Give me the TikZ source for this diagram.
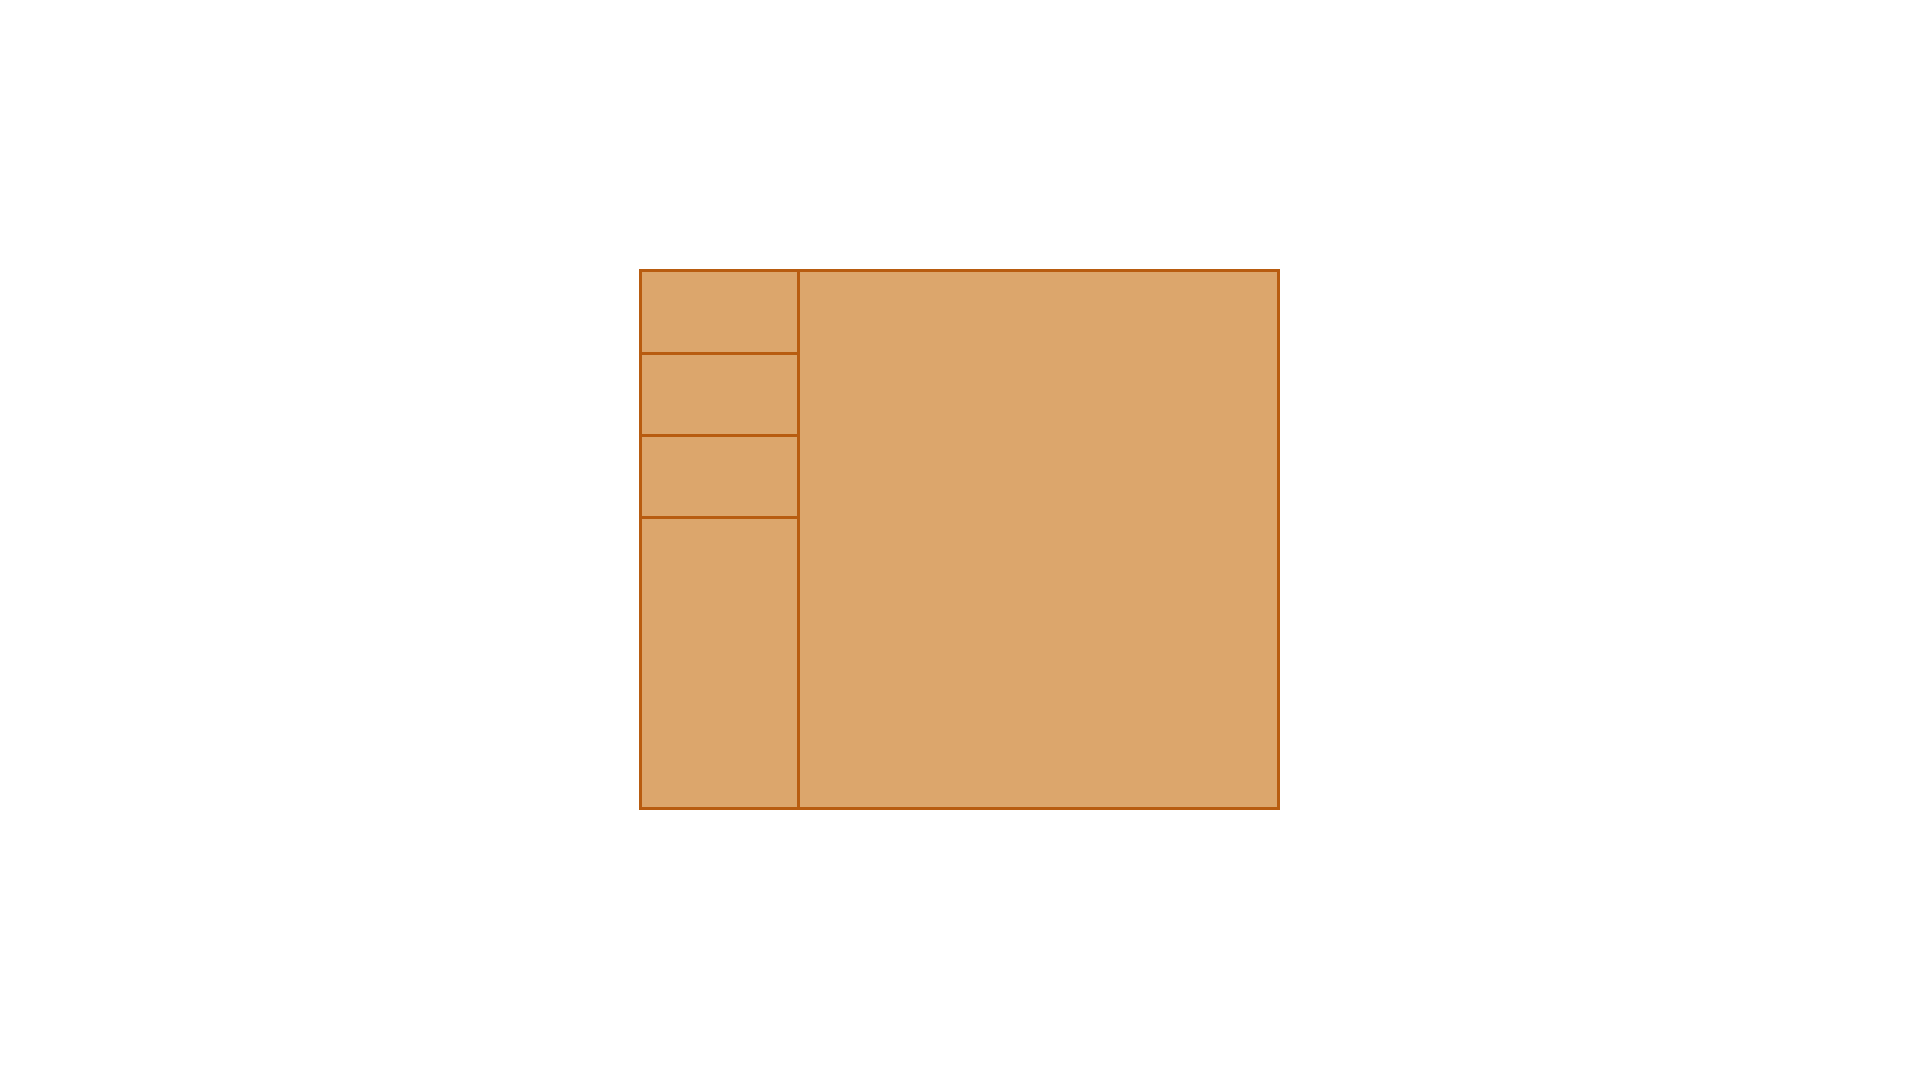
\documentclass[tikz,border=0pt]{standalone}
\usepackage{xcolor}
\usepackage{tikz}
\usetikzlibrary{positioning}
\definecolor{panelfill}{RGB}{220,166,108}
\definecolor{paneledge}{RGB}{184,92,16}

\begin{document}
\begin{tikzpicture}[x=0.01cm, y=-0.01cm,
  panel/.style={draw=paneledge, fill=panelfill, line width=0.85pt,
    inner sep=0pt, outer sep=0pt}]
\useasboundingbox[fill=white] (0,0) rectangle (1920,1080);
% left column
\node[panel, anchor=north west, minimum width=1.575cm, minimum height=0.82cm] (cellA) at (640.5,271) {};
\node[panel, below=0pt of cellA, minimum width=1.575cm, minimum height=0.82cm] (cellB) {};
\node[panel, below=0pt of cellB, minimum width=1.575cm, minimum height=0.82cm] (cellC) {};
\node[panel, below=0pt of cellC, minimum width=1.575cm, minimum height=2.91cm] (cellD) {};
% main area
\node[panel, anchor=north west, minimum width=4.80cm, minimum height=5.37cm] (mainarea) at (cellA.north east) {};
\end{tikzpicture}
\end{document}
